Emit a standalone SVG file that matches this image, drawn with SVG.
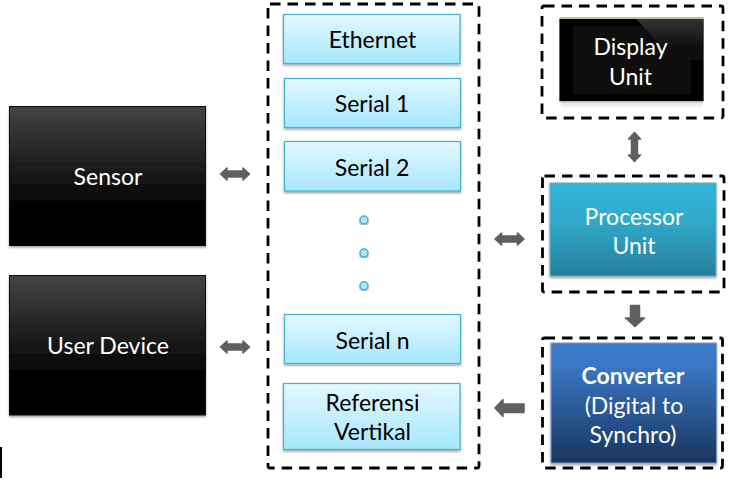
<svg xmlns="http://www.w3.org/2000/svg" width="731" height="483" viewBox="0 0 731 483">
<style>
text{font-family:"Lato","Open Sans","Liberation Sans",sans-serif;font-size:23px;text-anchor:middle}
.w{fill:#fff}.k{fill:#000}
.dash{fill:none;stroke:#000;stroke-width:2.8;stroke-dasharray:10.500 7}
.port{fill:url(#port);stroke:#45b0cf;stroke-width:1.2;filter:url(#sh)}
.dark{fill:url(#dark);stroke:#111;stroke-width:1;filter:url(#sh)}
.arrow{fill:#5f5f5f;stroke:#5f5f5f;stroke-width:1.5;stroke-linejoin:round}
.dot{fill:#a9e6fa;stroke:#45b0cf;stroke-width:1.4;filter:url(#sh)}
</style>
<defs>
<linearGradient id="port" x1="0" y1="0" x2="0" y2="1"><stop offset="0" stop-color="#e3f8ff"/><stop offset="1" stop-color="#a6e7fd"/></linearGradient>
<linearGradient id="dark" x1="0" y1="0" x2="0" y2="1"><stop offset="0" stop-color="#444"/><stop offset=".75" stop-color="#000"/><stop offset="1" stop-color="#000"/></linearGradient>
<linearGradient id="proc" x1="0" y1="0" x2="0" y2="1"><stop offset="0" stop-color="#33b4d9"/><stop offset=".4" stop-color="#31a9cb"/><stop offset="1" stop-color="#26809b"/></linearGradient>
<linearGradient id="conv" x1="0" y1="0" x2="0" y2="1"><stop offset="0" stop-color="#3d7ccc"/><stop offset=".2" stop-color="#3a76c2"/><stop offset="1" stop-color="#18355e"/></linearGradient>
<linearGradient id="gloss" x1="0" y1="0" x2="0" y2="1"><stop offset="0" stop-color="#333"/><stop offset=".7" stop-color="#0e0e0c"/></linearGradient>
<linearGradient id="rim" x1="0" y1="0" x2="0" y2="1"><stop offset="0" stop-color="#d8d8d8"/><stop offset="1" stop-color="#fff"/></linearGradient>
<filter id="sh" x="-5%" y="-5%" width="110%" height="115%"><feDropShadow dx="0" dy="1.5" stdDeviation="1.2" flood-color="#000" flood-opacity=".4"/></filter>
<path id="dbl" d="M-14.500 0L-8 -6V-3H8V-6L14.500 0L8 6V3H-8V6Z"/>
</defs>

<rect x="0" y="447" width="2" height="31" fill="#000"/>

<g id="sensor"><rect class="dark" x="9.5" y="106.5" width="196" height="139"/><text class="w" x="108" y="184.500">Sensor</text></g>
<g id="user-device"><rect class="dark" x="9.5" y="275.500" width="196" height="139.500"/><text class="w" x="108" y="354">User Device</text></g>

<g id="interfaces">
<rect class="dash" x="268" y="4" width="211" height="464" rx="2"/>
<g id="ethernet"><rect class="port" x="283.500" y="14.500" width="176.500" height="49"/><text class="k" x="372.500" y="48">Ethernet</text></g>
<g id="serial-1"><rect class="port" x="284.500" y="78.500" width="176" height="49"/><text class="k" x="372" y="112">Serial 1</text></g>
<g id="serial-2"><rect class="port" x="284.500" y="141.500" width="176" height="49.500"/><text class="k" x="372" y="175.500">Serial 2</text></g>
<circle class="dot" cx="364" cy="220" r="4"/>
<circle class="dot" cx="364" cy="253" r="4"/>
<circle class="dot" cx="364" cy="285.700" r="4"/>
<g id="serial-n"><rect class="port" x="284.500" y="314.500" width="176" height="49"/><text class="k" x="372.500" y="348.500">Serial n</text></g>
<g id="referensi-vertikal"><rect class="port" x="283.500" y="383.500" width="176.500" height="66"/><text class="k" x="372.500" y="410.500">Referensi</text><text class="k" x="372.500" y="439.500">Vertikal</text></g>
</g>

<g id="display-unit">
<rect class="dash" x="542" y="6" width="181" height="112" rx="2"/>
<rect x="561" y="100" width="141" height="9" fill="url(#rim)"/>
<rect x="559" y="17" width="145" height="85.500" rx="2" fill="#c9bba6"/>
<rect x="559.500" y="19" width="144" height="82" fill="#000"/>
<rect x="573" y="26" width="118" height="68" fill="#0e0e0c"/>
<path d="M636 19H703V60H691L665 50Z" fill="url(#gloss)"/>
<text class="w" x="630.500" y="54.500">Display</text><text class="w" x="630.500" y="84.500">Unit</text>
</g>

<g id="processor-unit">
<rect class="dash" x="542.500" y="176" width="181.500" height="116" rx="2"/>
<rect x="550" y="183" width="166" height="93" fill="url(#proc)" stroke="#6fa9bd" stroke-width="1" filter="url(#sh)"/>
<text class="w" x="634" y="224.500">Processor</text><text class="w" x="634" y="253.500">Unit</text>
</g>

<g id="converter">
<rect class="dash" x="542.500" y="338" width="180" height="130" rx="2"/>
<rect x="551" y="343" width="165.500" height="120" fill="url(#conv)" stroke="#7d9cc4" stroke-width="1" filter="url(#sh)"/>
<text class="w" x="633" y="383.500" font-weight="700">Converter</text><text class="w" x="634" y="413.500">(Digital to</text><text class="w" x="633" y="442.500">Synchro)</text>
</g>

<g id="connectors">
<use class="arrow" href="#dbl" x="235" y="174"/>
<use class="arrow" href="#dbl" x="235" y="347"/>
<use class="arrow" href="#dbl" x="509.500" y="239"/>
<use class="arrow" href="#dbl" transform="translate(634.500 147) rotate(90)"/>
<path class="arrow" d="M630.500 305.500H639.500V318H644.500L635 326.500L625.500 318H630.500Z"/>
<path class="arrow" d="M524 404V412.500H503V416.500L495 408L503 399.500V404Z"/>
</g>
</svg>
